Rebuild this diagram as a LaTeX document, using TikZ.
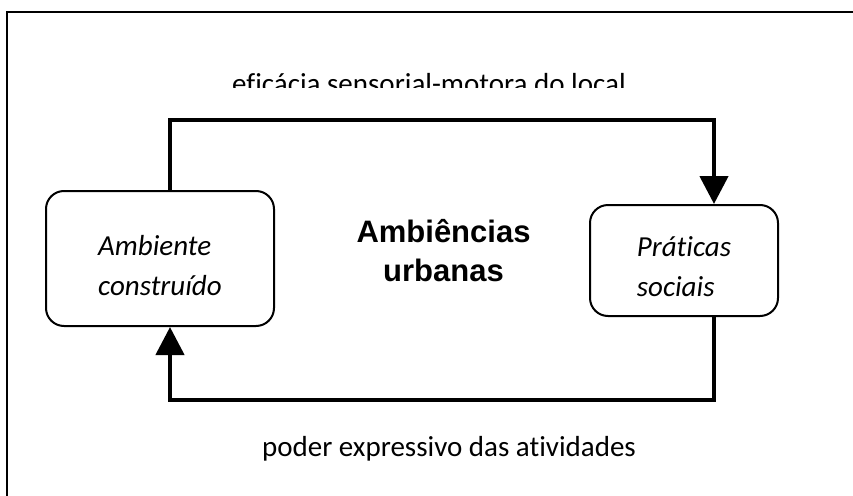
\documentclass[tikz,border=0pt]{standalone}
\usepackage{fontspec}
\setmainfont{Carlito}[Ligatures=NoCommon]
\newfontfamily\titlefont{Liberation Sans}
\usetikzlibrary{arrows.meta}

\begin{document}
\begin{tikzpicture}[x=1pt,y=-1pt,
	box/.style={draw,line width=2pt,rounded corners=18pt,align=left,font=\fontsize{29}{40}\selectfont\itshape},
	flow/.style={line width=4.5pt,-{Triangle[length=28pt,width=28pt]}},
	label/.style={anchor=base,font=\fontsize{29}{40}\selectfont}]
	\clip (0,0) rectangle (853,495);
	\draw[line width=2pt] (7,12) rectangle (900,560);
	\node[box,minimum width=228pt,minimum height=135pt] (amb) at (160,258.5) {\rule{0pt}{35pt}Ambiente\\construído};
	\node[box,minimum width=188pt,minimum height=111pt] (prat) at (684,260.5) {\rule{0pt}{33pt}Práticas\\sociais};
	\node[align=center,font=\fontsize{31}{39}\selectfont\titlefont\bfseries] (title) at (443.5,251) {Ambiências\\urbanas};
	\begin{scope}
		\clip (0,0) rectangle (853,87);
		\node[label] (top) at (429,93) {eficácia sensorial-motora do local};
	\end{scope}
	\node[label] (bottom) at (449,456) {poder expressivo das atividades};
	\coordinate (tl) at (170,120);
	\coordinate (tr) at (714,120);
	\coordinate (bl) at (170,400);
	\draw[flow] (amb.north -| tl) |- (tr) -- (prat.north -| tr);
	\draw[flow] (prat.south -| tr) |- (bl) -- (amb.south -| bl);
\end{tikzpicture}
\end{document}
